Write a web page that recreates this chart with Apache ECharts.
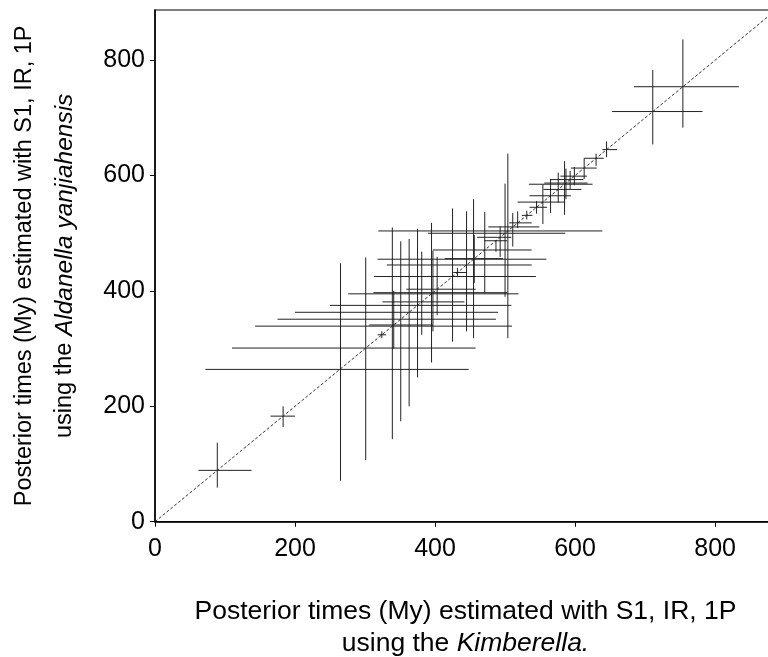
<!DOCTYPE html>
<html><head><meta charset="utf-8">
<script src="https://cdn.jsdelivr.net/npm/echarts@6/dist/echarts.min.js"></script>
<style>html,body{margin:0;padding:0;background:#fff}#c{width:768px;height:657px}</style>
</head><body><div id="c"></div>
<script>
// Centre estimates (My) and 95% interval bounds for each node
const xMid = [89,183,265,301,324,339,341,351,363,375,381,395,397,403,425,432,445,455,456,471,487,493,500,504,511,518,531,545,554,565,576,585,587,593,599,613,630,645,711,754];
const yMid = [89,183,264,301,324,339,341,351,363,375,381,395,397,403,425,432,445,455,456,471,487,493,500,504,511,518,531,545,554,565,576,585,587,593,599,613,630,645,711,754];
const xLow = [62,165,72,110,318,143,306,175,200,250,325,276,312,359,313,426,331,318,414,397,470,460,390,319,476,506,524,535,518,535,555,534,556,565,579,594,613,639,653,684];
const xHigh= [138,200,448,458,330,510,397,487,490,509,442,519,503,458,544,445,538,559,497,538,503,509,586,639,549,538,539,560,586,594,609,625,618,612,617,631,641,660,782,834];
const yLow = [59,164,71,107,318,143,300,174,200,250,324,276,330,358,312,424,330,318,414,397,468,459,390,318,477,509,524,534,516,535,553,532,559,577,583,594,617,632,654,683];
const yHigh= [137,200,448,458,330,510,400,486,490,508,468,518,470,459,543,440,538,559,497,537,488,512,586,638,535,538,539,556,585,594,605,625,612,608,615,630,638,659,783,836];
const xTicks = [0,200,400,600,800];
const axisMax = 887;

const data = xMid.map((v,i)=>[v,yMid[i],xLow[i],xHigh[i],yLow[i],yHigh[i]]);
const chart = echarts.init(document.getElementById('c'));
const tickFont = {fontFamily:'Liberation Sans, Arial, sans-serif', fontSize:25, color:'#000'};
chart.setOption({
  animation:false,
  grid:{left:155,top:10,width:621,height:511.7,show:true,borderColor:'#000',borderWidth:1.2,backgroundColor:'transparent',
        containLabel:false,outerBoundsMode:'none'},
  xAxis:{type:'value',min:0,max:axisMax,interval:200,
    axisLine:{show:true,lineStyle:{color:'#000',width:1.5}},
    axisTick:{show:true,length:5,lineStyle:{color:'#000'}},
    axisLabel:Object.assign({margin:15,showMaxLabel:false},tickFont),
    splitLine:{show:false},
    name:'{n|Posterior times (My) estimated with S1, IR, 1P}\n{n|using the }{i|Kimberella.}',
    nameLocation:'middle',nameGap:74,
    nameTextStyle:{rich:{
      n:{fontFamily:'Liberation Sans, Arial, sans-serif',fontSize:26.5,color:'#000',lineHeight:32},
      i:{fontFamily:'Liberation Sans, Arial, sans-serif',fontSize:26.5,fontStyle:'italic',color:'#000',lineHeight:32}}}
  },
  yAxis:{type:'value',min:0,max:axisMax,interval:200,
    axisLine:{show:true,lineStyle:{color:'#000',width:1.5}},
    axisTick:{show:true,length:5,lineStyle:{color:'#000'}},
    axisLabel:Object.assign({margin:10,showMaxLabel:false},tickFont),
    splitLine:{show:false},
    name:'{n|Posterior times (My) estimated with S1, IR, 1P}\n{n|using the }{i|Aldanella yanjiahensis}',
    nameLocation:'middle',nameGap:70,nameRotate:90,
    nameTextStyle:{rich:{
      n:{fontFamily:'Liberation Sans, Arial, sans-serif',fontSize:23.5,color:'#000',lineHeight:40},
      i:{fontFamily:'Liberation Sans, Arial, sans-serif',fontSize:24.5,fontStyle:'italic',color:'#000',lineHeight:40}}}
  },
  series:[
    {type:'line',data:[[0,0],[axisMax,axisMax]],symbol:'none',silent:true,
     lineStyle:{color:'#333',width:1,type:[3,2]},z:1},
    {type:'custom',data:data,encode:{x:0,y:1},z:2,
     renderItem:function(params,api){
       const xm=api.value(0), ym=api.value(1);
       const a=api.coord([api.value(2),ym]), b=api.coord([api.value(3),ym]);
       const c=api.coord([xm,api.value(4)]), d=api.coord([xm,api.value(5)]);
       const st={stroke:'#222',lineWidth:1};
       return {type:'group',children:[
         {type:'line',shape:{x1:a[0],y1:a[1],x2:b[0],y2:b[1]},style:st},
         {type:'line',shape:{x1:c[0],y1:c[1],x2:d[0],y2:d[1]},style:st}
       ]};
     }}
  ]
});
</script></body></html>
